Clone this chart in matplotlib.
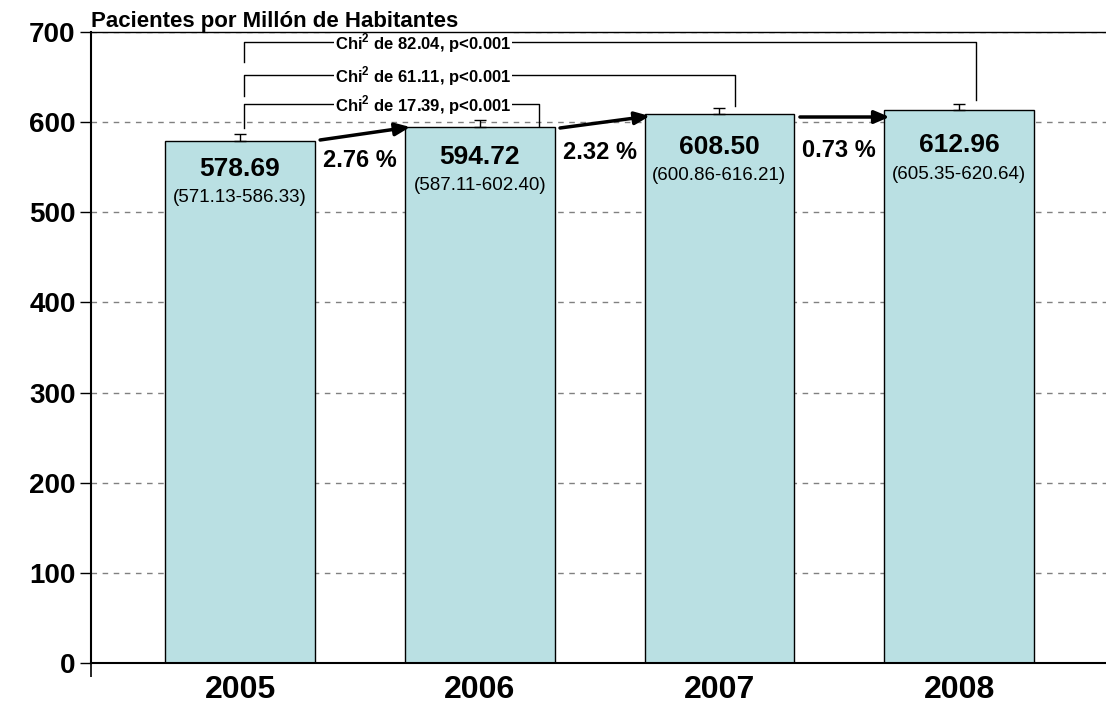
import matplotlib
matplotlib.use("Agg")
import matplotlib.pyplot as plt
import numpy as np

# ---- data ----
years = ["2005", "2006", "2007", "2008"]
values = [578.69, 594.72, 608.50, 612.96]
ci_low = [571.13, 587.11, 600.86, 605.35]
ci_high = [586.33, 602.40, 616.21, 620.64]
pct_changes = ["2.76 %", "2.32 %", "0.73 %"]
chi_values = ["17.39", "61.11", "82.04"]
chi_pairs = [(0, 1), (0, 2), (0, 3)]
yticks = [0, 100, 200, 300, 400, 500, 600, 700]
ylabel = "Pacientes por Millón de Habitantes"

plt.rcParams['font.family'] = ['Liberation Sans', 'DejaVu Sans']
plt.rcParams['mathtext.fontset'] = 'custom'
plt.rcParams['mathtext.bf'] = 'Liberation Sans:bold'
plt.rcParams['mathtext.rm'] = 'Liberation Sans'

W, H = 1106, 709
fig = plt.figure(figsize=(W / 100, H / 100), dpi=100)
ax = fig.add_axes([91 / W, (H - 663) / H, 1 - 91 / W, (663 - 32) / H])

x = np.arange(len(years))
bar_w = 0.625
ax.bar(x, values, width=bar_w, color="#BAE0E3", edgecolor="black", linewidth=1.0, zorder=2)

# upper error bars
up = np.array(ci_high) - np.array(values)
ax.errorbar(x, values, yerr=[np.zeros_like(up), up], fmt="none", ecolor="black",
            elinewidth=1.0, capsize=4.3, capthick=1.0, zorder=3)

ax.set_xlim(-0.622, 3.613)
ax.set_ylim(0, 700)
ax.set_yticks(yticks)
ax.set_yticklabels([str(t) for t in yticks], fontsize=20, fontweight="bold")
ax.set_xticks(x)
ax.set_xticklabels(years, fontsize=23, fontweight="bold")
ax.tick_params(axis="x", length=0, pad=9)
ax.tick_params(axis="y", length=8, width=1.0, direction="out", pad=3)
ax.set_xticks([-0.622], minor=True)
ax.tick_params(axis="x", which="minor", length=10, width=1.2, direction="out")

ax.yaxis.grid(True, linestyle=(0, (4, 4)), color="#808080", linewidth=1.0, zorder=0)
ax.set_axisbelow(True)
ax.spines["right"].set_visible(False)
ax.spines["top"].set_visible(False)
ax.spines["left"].set_linewidth(1.5)
ax.spines["bottom"].set_linewidth(1.5)
# plot-area top border, drawn above everything
ax.axhline(700, color="black", lw=1.0, zorder=10, clip_on=False)

# value labels
val_off = [31, 33.5, 36, 38]
rng_off = [62.7, 65.5, 67.5, 70.5]
for i, v in enumerate(values):
    ax.text(x[i], v - val_off[i], f"{v:.2f}", ha="center", va="center", fontsize=19,
            fontweight="bold", zorder=4)
    ax.text(x[i], v - rng_off[i], f"({ci_low[i]:.2f}-{ci_high[i]:.2f})", ha="center",
            va="center", fontsize=13.5, zorder=4)

# arrows between bars with percentage change
arrow_specs = [((0.334, 580.2), (0.71, 594.6)),
               ((1.335, 593.5), (1.71, 606.8)),
               ((2.336, 605.7), (2.71, 605.7))]
for (s, e) in arrow_specs:
    ax.annotate("", xy=e, xytext=s,
                arrowprops=dict(arrowstyle="-|>,head_length=0.9,head_width=0.38",
                                color="black", lw=2.5, shrinkA=0, shrinkB=0), zorder=5)
pct_y = [557, 566, 568]
for i, p in enumerate(pct_changes):
    ax.text(x[i] + 0.5, pct_y[i], p, ha="center", va="center", fontsize=17,
            fontweight="bold", zorder=4)

# chi-square brackets
bracket_h = [620, 652, 689]
left_bottom = [594, 629, 667]
right_x_off = [0.247, 0.063, 0.07]
right_bottom = [596, 618, 624.5]
text_x = 0.763
for k, (a, b) in enumerate(chi_pairs):
    lx = x[a] + 0.015
    rx = x[b] + right_x_off[k]
    h = bracket_h[k]
    ax.plot([lx, lx, rx, rx], [left_bottom[k], h, h, right_bottom[k]],
            color="black", lw=1.0, zorder=4, clip_on=False)
    label = r"Chi$^{\mathbf{2}}$" + f" de {chi_values[k]}, p<0.001"
    ax.text(text_x, h - 1.5, label, ha="center", va="center", fontsize=12,
            fontweight="bold", zorder=6,
            bbox=dict(facecolor="white", edgecolor="none", pad=0.8))

fig.text(91 / W, 1 - 27.5 / H, ylabel, ha="left", va="baseline", fontsize=16,
         fontweight="bold")

fig.savefig("out.png", dpi=100)
